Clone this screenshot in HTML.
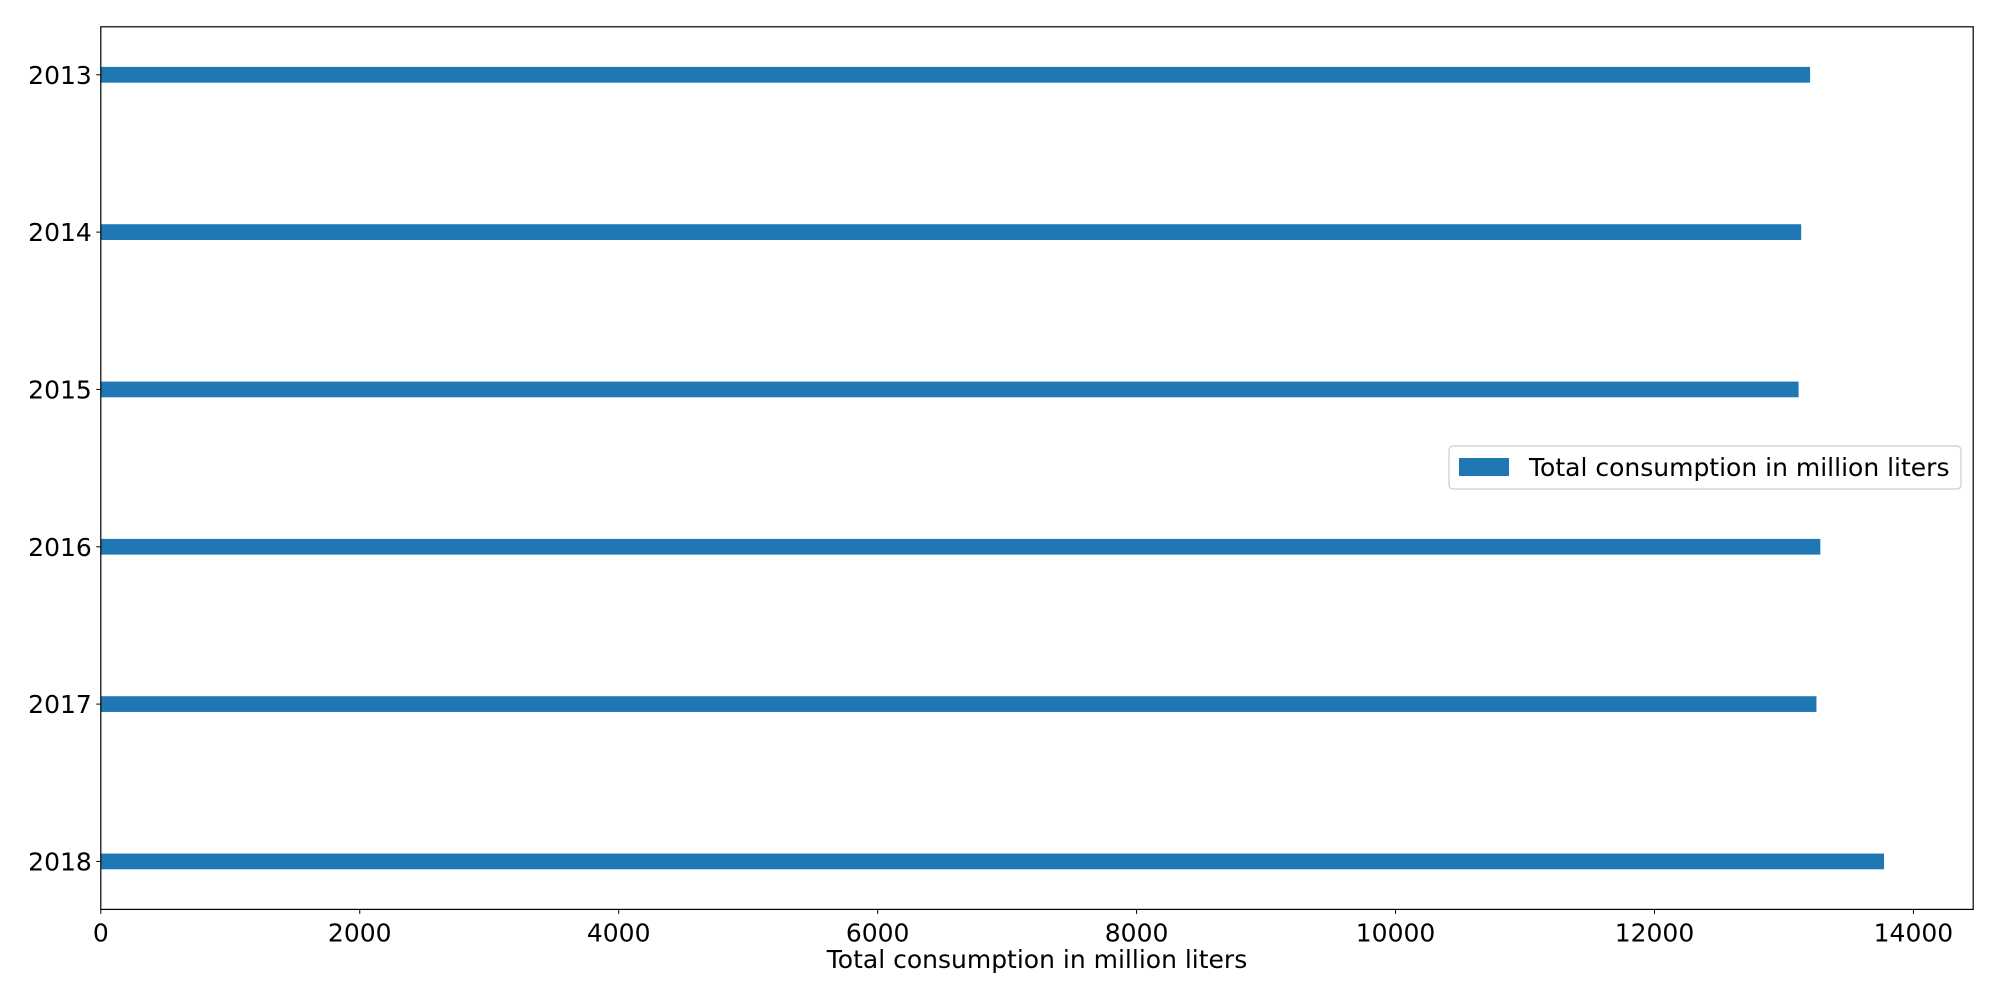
<!DOCTYPE html>
<html><head><meta charset="utf-8"><style>
html,body{margin:0;padding:0;background:#fff;}
svg{display:block;font-family:"DejaVu Sans","Liberation Sans",sans-serif;}
</style></head><body>
<svg id="chart" width="2000" height="1000" viewBox="0 0 2000 1000"></svg>
<script>
const categories = ["2013","2014","2015","2016","2017","2018"];
const values = [13202, 13133, 13113, 13281, 13251, 13773];
const xTicks = [0,2000,4000,6000,8000,10000,12000,14000];
const seriesName = "Total consumption in million liters";

const NS = "http://www.w3.org/2000/svg";
const svg = document.getElementById('chart');
const L=100.8, R=1973.2, T=26.8, B=909.4;
const xMax = Math.max(...values)*1.05;
const x = v => L + v/xMax*(R-L);
const yMin=-0.305, yMax=(categories.length-1)+0.305;
const y = i => T + (i-yMin)/(yMax-yMin)*(B-T);
function mk(tag, attrs, parent){const e=document.createElementNS(NS,tag);for(const k in attrs)e.setAttribute(k,attrs[k]);(parent||svg).appendChild(e);return e;}

values.forEach((v,i)=>{
  const h=0.1*(B-T)/(yMax-yMin);
  const r=mk('rect',{x:x(0),y:y(i)-h/2,width:x(v)-x(0),height:h,fill:'#1f77b4'});
  
  
});
categories.forEach((c,i)=>{
  mk('line',{x1:L-4.5,x2:L,y1:y(i),y2:y(i),stroke:'#000','stroke-width':1});
  const t=mk('text',{x:L-9,y:y(i)+9,'text-anchor':'end','font-size':25,fill:'#000'});
  t.textContent=c;
  
  
});
xTicks.forEach(v=>{
  mk('line',{x1:x(v),x2:x(v),y1:B,y2:B+4.5,stroke:'#000','stroke-width':1});
  const t=mk('text',{x:x(v),y:B+32,'text-anchor':'middle','font-size':25,fill:'#000'});
  t.textContent=v;
  
  
});
const frame=mk('rect',{x:L,y:T,width:R-L,height:B-T,fill:'none',stroke:'#000','stroke-width':1.2});


const xl=mk('text',{x:(L+R)/2,y:968,'text-anchor':'middle','font-size':25,fill:'#000'});
xl.textContent=seriesName;


const lg=mk('g',{});


mk('rect',{x:1449,y:446,width:512,height:43,rx:4,fill:'#fff',stroke:'#ccc','stroke-width':1.2},lg);
const sw=mk('rect',{x:1459,y:458,width:50,height:18,fill:'#1f77b4'},lg);


const lt=mk('text',{x:1529,y:476,'font-size':25,fill:'#000'},lg);
lt.textContent=seriesName;


</script>
</body></html>
